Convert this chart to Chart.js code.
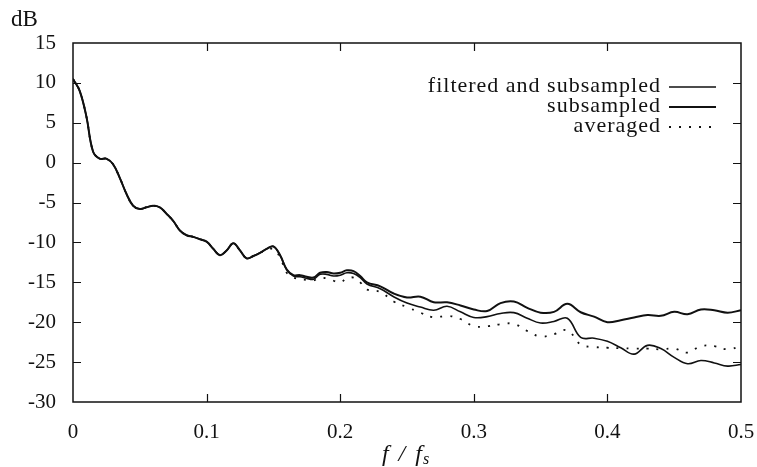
<!DOCTYPE html>
<html>
<head>
<meta charset="utf-8">
<script src="https://cdn.jsdelivr.net/npm/chart.js@4.4.1/dist/chart.umd.min.js"></script>
<style>
  html, body { margin: 0; padding: 0; background: #fff; }
</style>
</head>
<body>
<canvas id="psd" width="757" height="467"></canvas>
<script>
// Frequency axis (f / fs)
const freqs = [
    0, 0.005, 0.01, 0.015, 0.02, 0.025, 0.03, 0.035, 0.04, 0.045,
    0.05, 0.055, 0.06, 0.065, 0.07, 0.075, 0.08, 0.085, 0.09, 0.095,
    0.1, 0.105, 0.11, 0.115, 0.12, 0.125, 0.13, 0.135, 0.14, 0.145,
    0.15, 0.155, 0.16, 0.165, 0.17, 0.175, 0.18, 0.185, 0.19, 0.195,
    0.2, 0.205, 0.21, 0.215, 0.22,
    0.23, 0.24, 0.25, 0.26, 0.27, 0.28, 0.29, 0.3, 0.31, 0.32,
    0.33, 0.34, 0.35, 0.36, 0.37, 0.38, 0.39, 0.4, 0.41, 0.42,
    0.43, 0.44, 0.45, 0.46, 0.47, 0.48, 0.49, 0.5
];

// dB values
const filteredSub = [
    10.5, 9.0, 5.8, 1.4, 0.5, 0.5, -0.2, -1.9, -3.9, -5.4,
    -5.8, -5.6, -5.4, -5.6, -6.4, -7.3, -8.5, -9.1, -9.3, -9.6,
    -9.9, -10.8, -11.6, -11.0, -10.1, -11.0, -12.0, -11.7, -11.3, -10.8,
    -10.5, -11.6, -13.4, -14.2, -14.3, -14.5, -14.6, -14.0, -14.0, -14.2,
    -14.1, -13.8, -13.9, -14.4, -15.2,
    -15.8, -16.8, -17.6, -18.1, -18.5, -18.0, -18.7, -19.4, -19.3, -18.9,
    -18.8, -19.5, -20.1, -19.9, -19.5, -21.9, -22.0, -22.4, -23.2, -24.0,
    -22.9, -23.3, -24.4, -25.2, -24.8, -25.1, -25.5, -25.3
];
const subsampled = [
    10.5, 9.0, 5.8, 1.4, 0.5, 0.5, -0.2, -1.9, -3.9, -5.4,
    -5.8, -5.6, -5.4, -5.6, -6.4, -7.3, -8.5, -9.1, -9.3, -9.6,
    -9.9, -10.8, -11.6, -11.0, -10.1, -11.0, -12.0, -11.7, -11.3, -10.8,
    -10.5, -11.6, -13.4, -14.1, -14.1, -14.3, -14.4, -13.8, -13.7, -13.9,
    -13.8, -13.5, -13.6, -14.2, -15.0,
    -15.5, -16.4, -16.9, -16.8, -17.5, -17.5, -17.9, -18.4, -18.6, -17.6,
    -17.4, -18.2, -18.8, -18.7, -17.7, -18.75, -19.3, -20.0, -19.75, -19.4,
    -19.1, -19.2, -18.7, -19.0, -18.4, -18.5, -18.8, -18.5
];
const averaged = [
    10.5, 9.0, 5.8, 1.4, 0.5, 0.5, -0.2, -1.9, -3.9, -5.4,
    -5.8, -5.6, -5.4, -5.6, -6.4, -7.3, -8.5, -9.1, -9.3, -9.6,
    -9.9, -10.8, -11.6, -11.0, -10.1, -11.0, -12.0, -11.7, -11.3, -11.0,
    -10.8, -11.9, -13.8, -14.4, -14.6, -14.7, -14.75, -14.5, -14.5, -14.8,
    -15.0, -14.5, -14.4, -15.0, -15.9,
    -16.2, -17.4, -18.1, -18.8, -19.4, -19.2, -19.6, -20.5, -20.5, -20.25,
    -20.2, -21.1, -21.8, -21.5, -21.0, -22.8, -23.1, -23.2, -23.25, -23.3,
    -23.3, -23.4, -23.3, -23.8, -23.0, -23.0, -23.4, -23.0
];

const legendLabels = ['filtered and subsampled', 'subsampled', 'averaged'];
const xTickLabels = ['0', '0.1', '0.2', '0.3', '0.4', '0.5'];

const INK = '#111';
const FONT = "'Liberation Serif', 'Times New Roman', serif";

function toPoints(values) {
    return freqs.map((f, i) => ({ x: f, y: values[i] }));
}

// Frame, inward ticks, legend and axis captions
const framePlugin = {
    id: 'frame',
    afterDatasetsDraw(chart) {
        const { ctx, chartArea: a, scales: { x, y } } = chart;
        ctx.save();
        ctx.strokeStyle = INK;
        ctx.lineWidth = 1.5;
        ctx.strokeRect(a.left, a.top, a.right - a.left, a.bottom - a.top);

        ctx.lineWidth = 1.2;
        ctx.beginPath();
        y.ticks.forEach(t => {
            if (t.value <= y.min || t.value >= y.max) return;
            const py = Math.round(y.getPixelForValue(t.value)) + 0.5;
            ctx.moveTo(a.left, py); ctx.lineTo(a.left + 8, py);
            ctx.moveTo(a.right, py); ctx.lineTo(a.right - 8, py);
        });
        x.ticks.forEach(t => {
            if (t.value <= x.min + 1e-9 || t.value >= x.max - 1e-9) return;
            const px = Math.round(x.getPixelForValue(t.value)) + 0.5;
            ctx.moveTo(px, a.bottom); ctx.lineTo(px, a.bottom - 8);
            ctx.moveTo(px, a.top); ctx.lineTo(px, a.top + 8);
        });
        ctx.stroke();

        // legend
        ctx.font = '22px ' + FONT;
        ctx.letterSpacing = '1px';
        ctx.fillStyle = INK;
        ctx.textAlign = 'right';
        ctx.textBaseline = 'middle';
        chart.data.datasets.forEach((ds, i) => {
            const ly = a.top + 43 + i * 20;
            ctx.fillText(legendLabels[i], a.right - 80, ly);
            ctx.beginPath();
            ctx.lineWidth = ds.borderWidth;
            ctx.setLineDash(ds.borderDash || []);
            ctx.moveTo(a.right - 72, ly + 1);
            ctx.lineTo(a.right - 25, ly + 1);
            ctx.stroke();
        });
        ctx.setLineDash([]);

        // "dB" caption
        ctx.font = '23px ' + FONT;
        ctx.letterSpacing = '0px';
        ctx.textAlign = 'left';
        ctx.fillText('dB', 11, 20);

        // f / f_s caption
        const cx = (a.left + a.right) / 2;
        const cy = 455;
        ctx.font = 'italic 24px ' + FONT;
        ctx.letterSpacing = '2px';
        const main = 'f / f';
        const w1 = ctx.measureText(main).width;
        ctx.font = 'italic 16px ' + FONT;
        const w2 = ctx.measureText('s').width;
        const sx = cx - (w1 + w2) / 2;
        ctx.font = 'italic 24px ' + FONT;
        ctx.fillText(main, sx, cy);
        ctx.font = 'italic 16px ' + FONT;
        ctx.fillText('s', sx + w1 - 1, cy + 5);
        ctx.restore();
    }
};

new Chart(document.getElementById('psd'), {
    type: 'line',
    data: {
        datasets: [
            {
                label: legendLabels[0],
                data: toPoints(filteredSub),
                borderColor: INK,
                borderWidth: 1.6,
                pointRadius: 0,
                tension: 0.4
            },
            {
                label: legendLabels[1],
                data: toPoints(subsampled),
                borderColor: INK,
                borderWidth: 2,
                pointRadius: 0,
                tension: 0.4
            },
            {
                label: legendLabels[2],
                data: toPoints(averaged),
                borderColor: INK,
                borderWidth: 1.8,
                borderDash: [2, 8],
                pointRadius: 0,
                tension: 0.4
            }
        ]
    },
    options: {
        responsive: false,
        animation: false,
        devicePixelRatio: 1,
        layout: { padding: { left: 0, right: 16, top: 43, bottom: 0 } },
        plugins: {
            legend: { display: false },
            tooltip: { enabled: false }
        },
        scales: {
            x: {
                type: 'linear',
                min: 0,
                max: 0.5,
                grid: { display: false, drawTicks: false },
                border: { display: false },
                ticks: {
                    stepSize: 0.1,
                    padding: 18,
                    color: INK,
                    maxRotation: 0,
                    font: { family: FONT, size: 21 },
                    callback: (v) => xTickLabels[Math.round(v * 10)]
                },
                afterFit: (s) => {
                    s.height = 65;
                    s.paddingLeft = 0;
                    s.paddingRight = 0;
                }
            },
            y: {
                min: -30,
                max: 15,
                grid: { display: false, drawTicks: false },
                border: { display: false },
                ticks: {
                    stepSize: 5,
                    padding: 17,
                    color: INK,
                    font: { family: FONT, size: 21 },
                    callback: (v) => String(v)
                },
                afterFit: (s) => { s.width = 73; }
            }
        }
    },
    plugins: [framePlugin]
});
</script>
</body>
</html>
